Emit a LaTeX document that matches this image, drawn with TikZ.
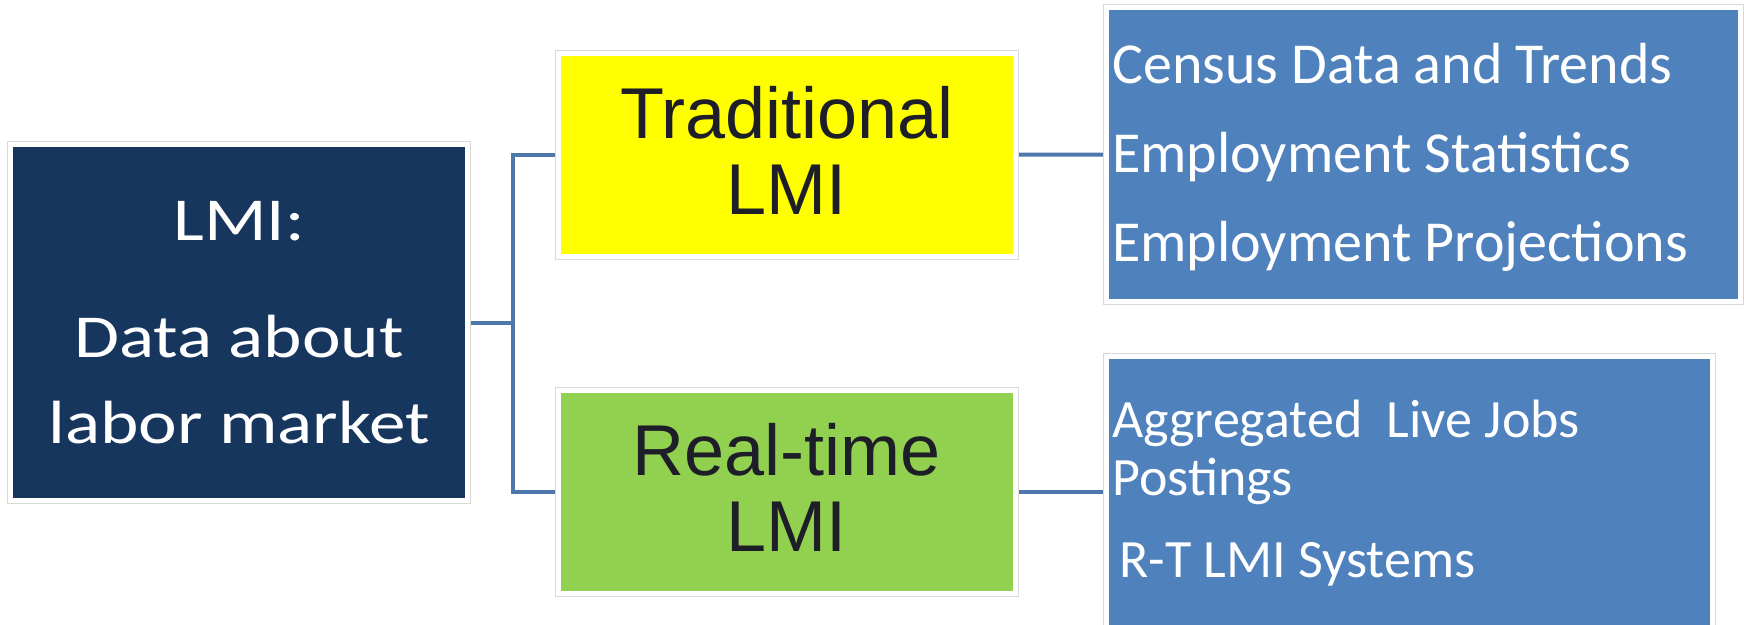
\documentclass[tikz,border=0pt]{standalone}
\usepackage{fontspec}
\setmainfont{Carlito}
\newfontfamily\widefont[FakeStretch=1.2]{Carlito}
\newfontfamily\arialfont{Liberation Sans}
\usetikzlibrary{backgrounds,calc}
\definecolor{navy}{HTML}{17365D}
\definecolor{tradyellow}{HTML}{FFFF00}
\definecolor{rtgreen}{HTML}{92D050}
\definecolor{listblue}{HTML}{4F81BD}
\definecolor{linkblue}{HTML}{4E77AC}
\definecolor{darktext}{HTML}{1E1E28}
\begin{document}
\begin{tikzpicture}[x=1pt,y=-1pt,
  box/.style={rectangle, inner sep=0pt, outer sep=0pt, draw=white, line width=5pt,
    preaction={draw=black!15, line width=7pt}},
  heading/.style={box, fill=navy, text=white, align=center,
    font=\widefont\fontsize{61}{86}\selectfont},
  kind/.style={box, text=darktext, align=center, text depth=9pt,
    font=\arialfont\fontsize{72}{76}\selectfont},
  listbox/.style={box, fill=listblue},
  listtext/.style={anchor=base west, inner sep=0pt, text=white,
    font=\fontsize{58}{70}\selectfont},
  smalllisttext/.style={listtext, font=\fontsize{54}{60}\selectfont},
  link/.style={draw=linkblue, line width=4pt}]
\useasboundingbox (0,0) rectangle (1744,624);

% root box
\node[heading, minimum width=457pt, minimum height=356pt] (lmi) at (239,322.5)
  {LMI:\\[31pt]Data about\\labor market};

% the two kinds of LMI
\node[kind, fill=tradyellow, minimum width=456.5pt, minimum height=203.5pt] (trad)
  at (786.75,154.75) {Traditional\\LMI};
\node[kind, fill=rtgreen, minimum width=456.5pt, minimum height=203pt] (rt)
  at (786.75,492) {Real-time\\LMI};

% source lists
\node[listbox, minimum width=634.5pt, minimum height=294pt] (tradlist) at (1423.25,154.5) {};
\node[listbox, minimum width=606.5pt, minimum height=290pt] (rtlist) at (1409.25,501.5) {};

\node[listtext] (census) at (1112,83) {Census Data and Trends};
\node[listtext] (stats) at (1112,172) {Employment Statistics};
\node[listtext] (proj) at (1112,261) {Employment Projections};

\node[smalllisttext] (postings) at (1112,437) {Aggregated\ \ Live Jobs};
\node[smalllisttext] (postings2) at (1112,495) {Postings};
\node[smalllisttext] (rtsys) at (1119,577) {R-T LMI Systems};

% connectors
\coordinate (bus) at (513,322.5);
\begin{scope}[on background layer]
  \draw[link] (lmi.east) -- (bus);
  \draw[link] (trad.west) -| (bus) |- (rt.west);
  \draw[link] (trad.east) -- (tradlist.west);
  \draw[link] (rt.east) -- (rt.east -| rtlist.west);
\end{scope}
\end{tikzpicture}
\end{document}
